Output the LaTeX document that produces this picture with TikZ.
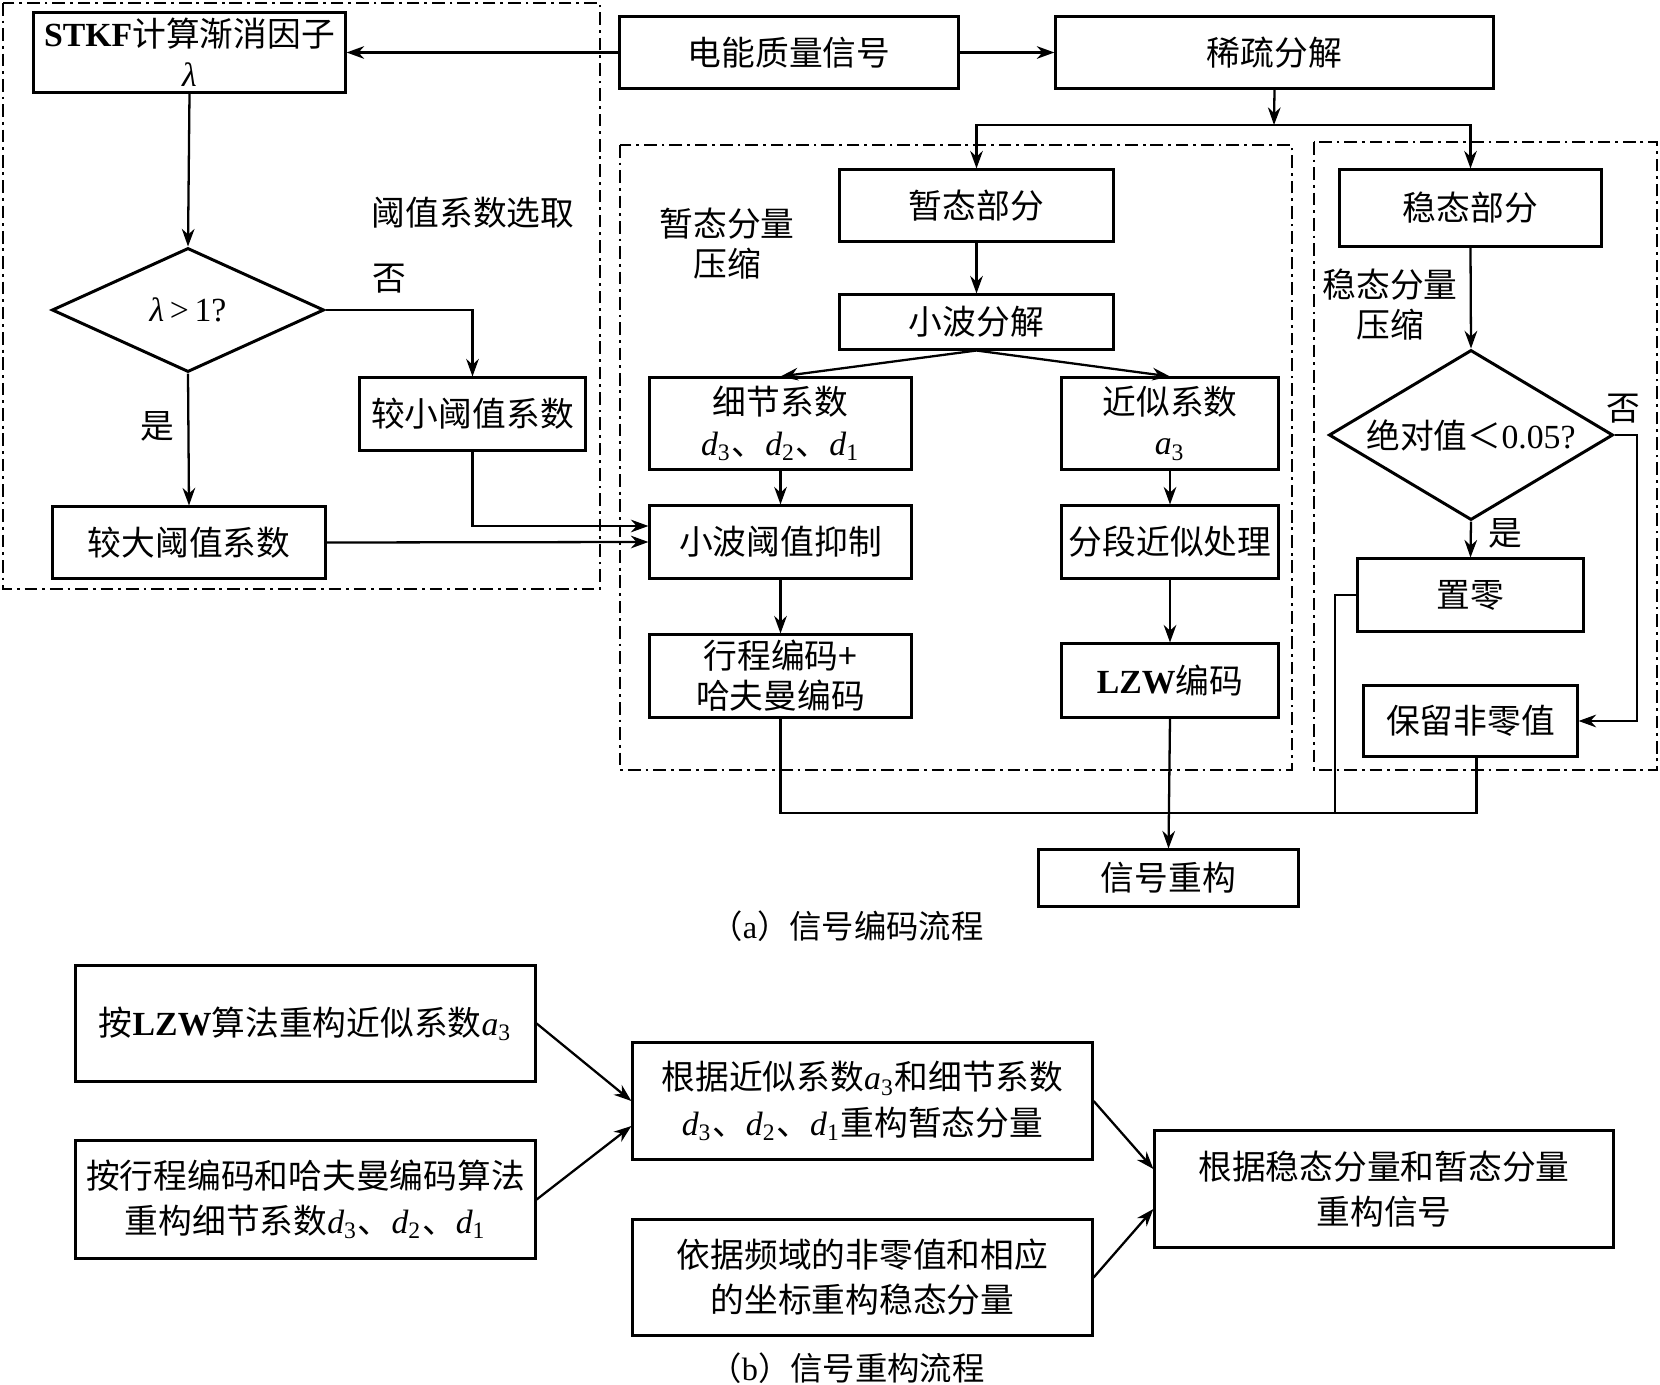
\documentclass[tikz,border=0pt]{standalone}
\usepackage{fontspec}
\setmainfont{Noto Sans CJK SC}
\newfontfamily\tnr{Liberation Serif}
\usetikzlibrary{arrows.meta,positioning,shapes.geometric}
\newcommand{\cnsize}{\fontsize{9.6pt}{11.4pt}\selectfont}
\newcommand{\coef}[2]{{\tnr\itshape #1}\textsubscript{\tnr #2}}
\tikzset{
  pbox/.style   = {rectangle, draw, line width=0.85pt, align=center,
                   inner sep=1pt, font=\cnsize},
  rbox/.style   = {pbox, font=\fontsize{9.6pt}{12.8pt}\selectfont},
  pdec/.style   = {diamond, draw, line width=0.85pt, align=center,
                   inner sep=0pt, font=\cnsize},
  pgroup/.style = {draw, line width=0.75pt,
                   dash pattern=on 3.6pt off 1.4pt on 0.8pt off 1.4pt},
  parr/.style   = {-{Stealth[length=5pt,width=3.6pt]}, line width=0.65pt},
  plink/.style  = {line width=0.65pt},
  plbl/.style   = {font=\cnsize, align=center, inner sep=0pt},
}

\begin{document}
\begin{tikzpicture}[x=0.01cm,y=-0.01cm]
\useasboundingbox (0,0) rectangle (1660,1385);

% dash-dot groups
\draw[pgroup] (3,3) rectangle (600,589);
\draw[pgroup] (620,145) rectangle (1292,770);
\draw[pgroup] (1314,142) rectangle (1657,770);

% threshold selection
\node[pbox, minimum width=3.11cm, minimum height=0.79cm] (stkf) at (189.5,52.5)
  {{\tnr\bfseries STKF}计算渐消因子\\{\tnr\itshape λ}};
\node[pdec, aspect=2.2, minimum width=2.72cm, minimum height=1.24cm] (lam) at (188,310)
  {{\tnr\itshape λ}{\tnr\,>\,1?}};
\node[pbox, minimum width=2.72cm, minimum height=0.71cm] (big) at (189,542.5) {较大阈值系数};
\node[pbox, minimum width=2.25cm, minimum height=0.72cm] (small) at (472.5,414) {较小阈值系数};
\node[plbl] (lblsel) at (473,213) {阈值系数选取};
\node[plbl] (lblno1) at (389,279) {否};
\node[plbl] (lblyes1) at (157,426) {是};

% signal and decomposition
\node[pbox, minimum width=3.38cm, minimum height=0.71cm] (sig) at (789,52.5) {电能质量信号};
\node[pbox, minimum width=4.37cm, minimum height=0.71cm] (sparse) at (1274.5,52.5) {稀疏分解};
\coordinate (br) at (1274,125);

% transient part
\node[plbl] (lbltr) at (727,244) {暂态分量\\压缩};
\node[pbox, minimum width=2.73cm, minimum height=0.71cm] (trans) at (976.5,205.5) {暂态部分};
\node[pbox, minimum width=2.73cm, minimum height=0.54cm] (wav) at (976.5,322) {小波分解};
\node[pbox, minimum width=2.61cm, minimum height=0.91cm] (detail) at (780.5,423.5)
  {细节系数\\\coef{d}{3}、\coef{d}{2}、\coef{d}{1}};
\node[pbox, minimum width=2.16cm, minimum height=0.91cm] (approx) at (1170,423.5)
  {近似系数\\\coef{a}{3}};
\node[pbox, minimum width=2.61cm, minimum height=0.72cm] (thr) at (780.5,542) {小波阈值抑制};
\node[pbox, minimum width=2.16cm, minimum height=0.72cm] (seg) at (1170,542) {分段近似处理};
\node[pbox, minimum width=2.61cm, minimum height=0.82cm] (rle) at (780.5,676)
  {行程编码+\\哈夫曼编码};
\node[pbox, minimum width=2.16cm, minimum height=0.73cm] (lzw) at (1170,680.5)
  {{\tnr\bfseries LZW}编码};

% steady part
\node[pbox, minimum width=2.61cm, minimum height=0.76cm] (steady) at (1470.5,208) {稳态部分};
\node[plbl] (lblst) at (1390,305) {稳态分量\\压缩};
\node[pdec, aspect=1.67, minimum width=2.84cm, minimum height=1.70cm] (abs) at (1471,435)
  {绝对值＜{\tnr 0.05?}};
\node[plbl] (lblno2) at (1623,409) {否};
\node[plbl] (lblyes2) at (1505,533) {是};
\node[pbox, minimum width=2.25cm, minimum height=0.72cm] (zero) at (1470.5,595) {置零};
\node[pbox, minimum width=2.13cm, minimum height=0.70cm] (keep) at (1470.5,721) {保留非零值};
\coordinate (nc) at (1637,435);
\coordinate (zc) at (1335,813);
\coordinate (mrg) at (1170,813);

\node[pbox, minimum width=2.59cm, minimum height=0.56cm] (rec) at (1168.5,878) {信号重构};
\node[plbl, font=\fontsize{9.2pt}{11pt}\selectfont] (capa) at (847,926) {（{\tnr a}）信号编码流程};

% connectors (a)
\draw[parr] (sig.west) -- (stkf.east);
\draw[parr] (sig.east) -- (sparse.west);
\draw[parr] (stkf.south) -- (lam.north);
\draw[parr] (lam.south) -- (big.north);
\draw[parr] (lam.east) -| (small.north);
\draw[parr] (small.south) |- ([yshift=0.16cm]thr.west);
\draw[parr] (big.east) -- (thr.west);
\draw[parr] (sparse.south) -- (br);
\draw[parr] (br) -| (trans.north);
\draw[parr] (br) -| (steady.north);
\draw[parr] (trans.south) -- (wav.north);
\draw[parr] (wav.south) -- (detail.north);
\draw[parr] (wav.south) -- (approx.north);
\draw[parr] (detail.south) -- (thr.north);
\draw[parr] (approx.south) -- (seg.north);
\draw[parr] (thr.south) -- (rle.north);
\draw[parr] (seg.south) -- (lzw.north);
\draw[parr] (steady.south) -- (abs.north);
\draw[parr] (abs.south) -- (zero.north);
\draw[parr] (abs.east) -- (nc) |- (keep.east);
\draw[plink] (zero.west) -| (zc);
\draw[plink] (rle.south) |- ([xshift=0.06cm]keep.south |- mrg) -- ([xshift=0.06cm]keep.south);
\draw[parr] (lzw.south) -- (rec.north);

% reconstruction (b)
\node[rbox, minimum width=4.59cm, minimum height=1.15cm] (lzwre) at (305.5,1023.5)
  {按{\tnr\bfseries LZW}算法重构近似系数\coef{a}{3}};
\node[rbox, minimum width=4.59cm, minimum height=1.17cm] (rlere) at (305.5,1199.5)
  {按行程编码和哈夫曼编码算法\\重构细节系数\coef{d}{3}、\coef{d}{2}、\coef{d}{1}};
\node[rbox, minimum width=4.59cm, minimum height=1.16cm] (transre) at (862.5,1101)
  {根据近似系数\coef{a}{3}和细节系数\\\coef{d}{3}、\coef{d}{2}、\coef{d}{1}重构暂态分量};
\node[rbox, minimum width=4.59cm, minimum height=1.15cm] (steadyre) at (862.5,1277.5)
  {依据频域的非零值和相应\\的坐标重构稳态分量};
\node[rbox, minimum width=4.58cm, minimum height=1.16cm] (final) at (1384,1189)
  {根据稳态分量和暂态分量\\重构信号};
\node[plbl, font=\fontsize{9.2pt}{11pt}\selectfont] (capb) at (847,1368) {（{\tnr b}）信号重构流程};

\draw[parr] (lzwre.east) -- (transre.west);
\draw[parr] (rlere.east) -- ([yshift=-0.25cm]transre.west);
\draw[parr] (transre.east) -- ([yshift=0.2cm]final.west);
\draw[parr] (steadyre.east) -- ([yshift=-0.2cm]final.west);
\end{tikzpicture}
\end{document}
